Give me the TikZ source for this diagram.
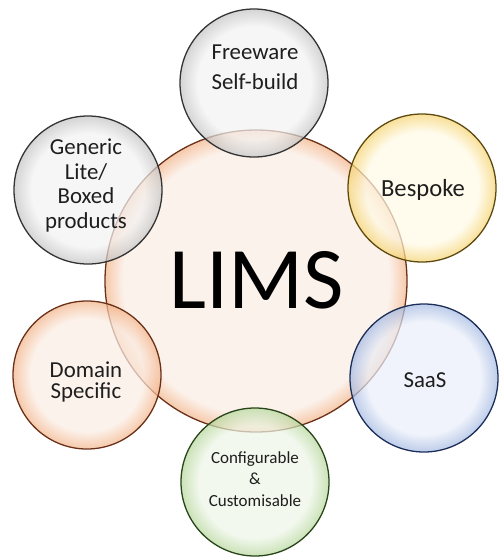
\documentclass[tikz,border=0pt]{standalone}
\usepackage{fontspec}
\setmainfont{Carlito}
\usepackage{xcolor}
\usepackage{tikz}
\definecolor{ink}{HTML}{1E1E1E}
\definecolor{limsin}{HTML}{FBEDE4}
\definecolor{limsrim}{HTML}{F2B489}
\definecolor{limsline}{HTML}{6B3018}
\definecolor{greyin}{HTML}{F3F3F3}
\definecolor{greyrim}{HTML}{C4C4C4}
\definecolor{greyline}{HTML}{333333}
\definecolor{goldin}{HTML}{FFFAE6}
\definecolor{goldrim}{HTML}{F6D472}
\definecolor{goldline}{HTML}{5E4A0E}
\definecolor{skyin}{HTML}{EAEFF9}
\definecolor{skyrim}{HTML}{A4B9E2}
\definecolor{skyline}{HTML}{1A2E58}
\definecolor{leafin}{HTML}{EDF5E6}
\definecolor{leafrim}{HTML}{B6D79C}
\definecolor{leafline}{HTML}{284419}
\colorlet{rimin}{white}
\colorlet{rimout}{white}
% flat middle, coloured rim (path edge sits at 25bp); redrawn whenever rimin/rimout change
\pgfdeclareradialshading[rimin,rimout]{rim}{\pgfpointorigin}{%
  color(0bp)=(rimin); color(19bp)=(rimin); color(25bp)=(rimout); color(50bp)=(rimout)}
\pgfdeclareradialshading[rimin,rimout]{thinrim}{\pgfpointorigin}{%
  color(0bp)=(rimin); color(22bp)=(rimin); color(25bp)=(rimout); color(50bp)=(rimout)}
\tikzset{
  bubble/.style={circle, inner sep=0pt, minimum size=4.44cm, line width=1.1pt,
    shade, shading=rim, fill opacity=0.72},
  hub/.style={bubble, minimum size=9.06cm, shading=thinrim},
  tag/.style={align=center, inner sep=0pt, text=ink, font=\fontsize{19.5}{25.5}\selectfont},
  smalltag/.style={tag, font=\fontsize{14.5}{18.3}\selectfont},
  title/.style={inner sep=0pt, font=\fontsize{75}{80}\selectfont},
}
\newcommand{\tint}[2]{\colorlet{rimin}{#1}\colorlet{rimout}{#2}}

\begin{document}
\begin{tikzpicture}[x=0.03cm,y=-0.03cm]
  \useasboundingbox (0,0) rectangle (500,557);
  % hub first, the six bubbles sit over its rim
  \tint{limsin}{limsrim}
  \node[hub, draw=limsline] (lims) at (256,281) {};
  \tint{greyin}{greyrim}
  \node[bubble, draw=greyline] (free) at (254,83) {};
  \node[bubble, draw=greyline] (generic) at (88,190) {};
  \tint{goldin}{goldrim}
  \node[bubble, draw=goldline] (bespoke) at (422,188) {};
  \tint{skyin}{skyrim}
  \node[bubble, draw=skyline] (saas) at (424,378) {};
  \tint{leafin}{leafrim}
  \node[bubble, draw=leafline] (config) at (255,482) {};
  \tint{limsin}{limsrim}
  \node[bubble, draw=limsline] (domain) at (87,375) {};
  % labels last so no fill covers them
  \node[title] (limstxt) at (257,280) {LIMS};
  \node[tag] (freetxt) at (255,67.5) {Freeware\\Self-build};
  \node[tag, font=\fontsize{19.5}{20.8}\selectfont] (generictxt) at (86,185.5)
    {Generic\\Lite/\\Boxed\\products};
  \node[tag, font=\fontsize{21}{25}\selectfont] (bespoketxt) at (423,190) {Bespoke};
  \node[tag] (saastxt) at (425,380) {SaaS};
  \node[smalltag] (configtxt) at (255,479) {Configurable\\\&\\Customisable};
  \node[tag, font=\fontsize{19.5}{18.5}\selectfont] (domaintxt) at (86,382) {Domain\\Specific};
\end{tikzpicture}
\end{document}
